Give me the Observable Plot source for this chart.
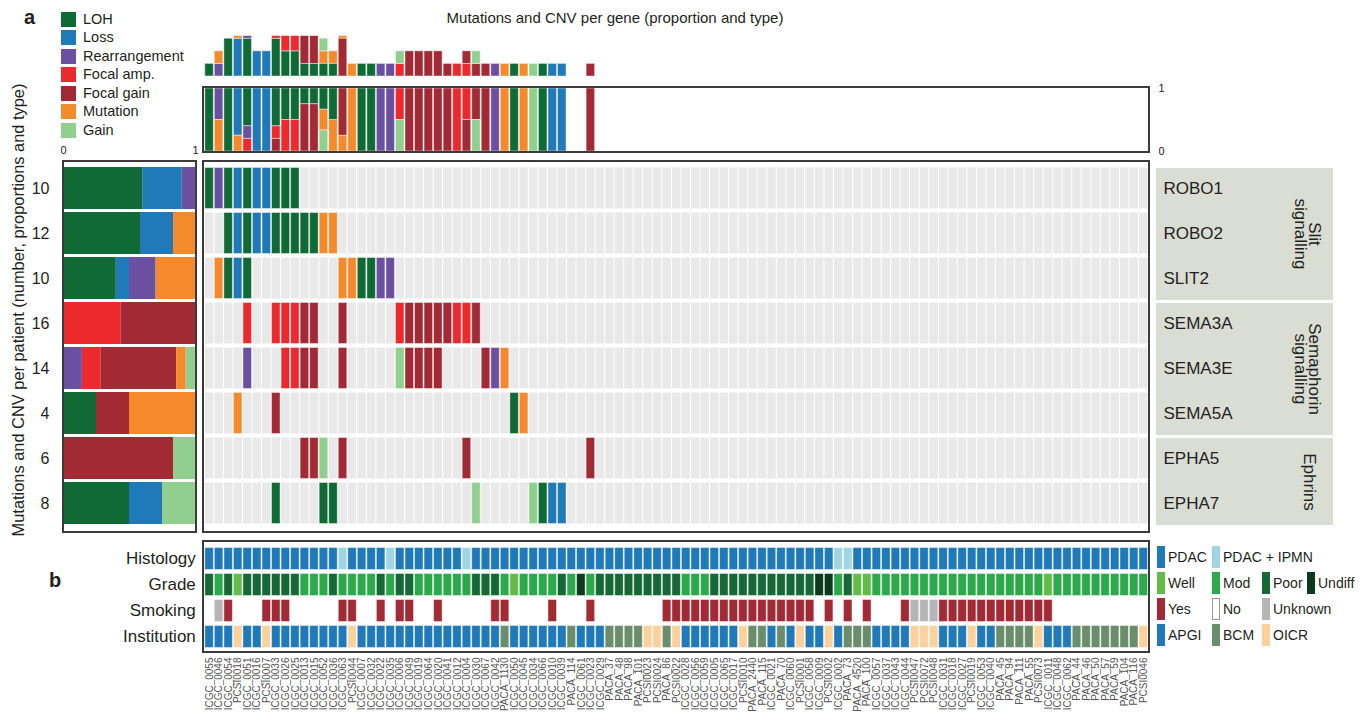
<!DOCTYPE html>
<html><head><meta charset="utf-8">
<script src="https://cdn.jsdelivr.net/npm/d3@7"></script>
<script src="https://cdn.jsdelivr.net/npm/@observablehq/plot@0.6"></script>
<style>
html,body{margin:0;padding:0;background:#fff;}
#root{position:relative;width:1370px;height:712px;overflow:hidden;font-family:"Liberation Sans",Arial,Helvetica,sans-serif;color:#231f20;}
#root svg{position:absolute;left:0;}
.box{position:absolute;box-sizing:border-box;border:2px solid #3b3b3b;}
.t{position:absolute;white-space:nowrap;}
.sw{position:absolute;box-sizing:border-box;}
</style></head><body><div id="root"></div>
<script>
// ---------------- DATA ----------------
const samples = ["ICGC_0055","ICGC_0046","ICGC_0054","PCSI0018","ICGC_0051","ICGC_0016","PCSI0007","ICGC_0033","ICGC_0026","ICGC_0025",
"ICGC_0013","ICGC_0015","ICGC_0052","ICGC_0036","ICGC_0063","PCSI0044","ICGC_0007","ICGC_0032","ICGC_0022","ICGC_0035",
"ICGC_0006","ICGC_0049","ICGC_0019","ICGC_0064","ICGC_0020","ICGC_0041","ICGC_0012","ICGC_0004","ICGC_0030","ICGC_0067",
"ICGC_0042","PACA_1130","ICGC_0050","ICGC_0045","ICGC_0034","ICGC_0066","ICGC_0010","ICGC_0039","PACA_114","ICGC_0061",
"ICGC_0023","ICGC_0029","PACA_37","PACA_48","PACA_98","PACA_101","PCSI0023","PCSI0024","PACA_86","PCSI0022",
"ICGC_0028","ICGC_0056","ICGC_0059","ICGC_0005","ICGC_0065","ICGC_0017","PCSI0010","PACA_2440","PACA_115","ICGC_0021",
"PACA_70","ICGC_0060","PCSI0001","ICGC_0058","ICGC_0009","PCSI0002","ICGC_0002","PACA_73","PACA_4520","PACA_100",
"ICGC_0057","ICGC_0037","ICGC_0043","ICGC_0044","PCSI0047","PCSI0072","PCSI0048","ICGC_0031","ICGC_0018","ICGC_0027",
"PCSI0019","ICGC_0053","ICGC_0040","PACA_45","PACA_94","PACA_111","PACA_55","PCSI0073","ICGC_0011","ICGC_0048",
"ICGC_0062","PACA_44","PACA_46","PACA_50","PACA_57","PACA_59","PACA_104","PACA_116","PCSI0046"];

const genes = ["ROBO1","ROBO2","SLIT2","SEMA3A","SEMA3E","SEMA5A","EPHA5","EPHA7"];
const eventTypes = ["LOH","Loss","Rearrangement","Focal amp.","Focal gain","Mutation","Gain"];
const eventColors = ["#0f6a36","#2079b8","#6b4fa1","#ec2a2e","#a22a35","#f58a2d","#90cf8e"];
const eventCodes = {L:"LOH",S:"Loss",R:"Rearrangement",A:"Focal amp.",G:"Focal gain",M:"Mutation",N:"Gain"};

// events per gene: "<sample index><type code>"
const eventsROBO1  = "0L 1R 2L 3S 4L 5S 6S 7L 8L 9L";
const eventsROBO2  = "2L 3S 4L 5S 6S 7L 8L 9L 10L 11L 12M 13M";
const eventsSLIT2  = "1M 2L 3S 4L 14M 15M 16L 17L 18R 19R";
const eventsSEMA3A = "4A 7A 8A 9A 10G 11G 14G 20A 21G 22G 23G 24G 25G 26A 27A 28G";
const eventsSEMA3E = "4R 8A 9A 10G 11G 14G 20N 21G 22G 23G 24G 29G 30R 31M";
const eventsSEMA5A = "3M 7G 32L 33M";
const eventsEPHA5  = "10G 11G 12N 14G 27G 40G";
const eventsEPHA7  = "7L 12L 13L 28N 34N 35L 36S 37S";
const geneEventLists = [eventsROBO1,eventsROBO2,eventsSLIT2,eventsSEMA3A,eventsSEMA3E,eventsSEMA5A,eventsEPHA5,eventsEPHA7];

const geneGroups = [["Slit","signalling"],["Semaphorin","signalling"],["Ephrins"]];
const geneGroupMembers = [["ROBO1","SLIT2"],["SEMA3A","SEMA5A"],["EPHA5","EPHA7"]];

// clinical annotation (one character per sample)
const annRows = ["Histology","Grade","Smoking","Institution"];
const histology   = "PPPPPPPPPP"+"PPPPIPPPPI"+"PPPPPPPIPP"+"PPPPPPPPPP"+"PPPPPPPPPP"+"PPPPPPPPPP"+"PPPPPPIIPP"+"PPPPPPPPPP"+"PPPPPPPPPP"+"PPPPPPPPP";
const grade       = "PMPWPPPPPP"+"MMMPMMMMPM"+"PPMMMMMMPP"+"PMWMMMMPMU"+"MPPPPPPPPP"+"MMMPPPPPPP"+"PPPPUUMPWW"+"MMMMMMMMMM"+"MMMMMMMMWM"+"MMMMMMMMM";
const smoking     = "NUYNNNYYYN"+"NNNNYYNNYN"+"YYNNYNNNNN"+"YYNNNNYNNN"+"YNNNNNNNYY"+"YYYYYYYYYY"+"YYYYNYNYNY"+"NNNYUUUYYY"+"YYYYYYYYYN"+"NNNNNNNNN";
const institution = "AAAOAAOAAA"+"AAAAAOAAAA"+"AAAAAAAAAA"+"ABAAAAAABA"+"AABBBBOOBO"+"AAAAAAOBBA"+"BAOAAOABBB"+"AAAAOOOAAA"+"OAABBBBOAA"+"ABBBBBBBO";

const histLabels = ["PDAC","PDAC + IPMN"], histCodes = ["P","I"], histColors = ["#2079b8","#a0d5e3"];
const gradeLabels = ["Well","Mod","Poor","Undiff"], gradeCodes = ["W","M","P","U"], gradeColors = ["#63bb48","#2ca94b","#166836","#0b3a1c"];
const smokeLabels = ["Yes","No","Unknown"], smokeCodes = ["Y","N","U"], smokeColors = ["#a22a35","#ffffff","#b5b5b5"];
const instLabels = ["APGI","BCM","OICR"], instCodes = ["A","B","O"], instColors = ["#2079b8","#6a8d6c","#fdd19c"];

// ---------------- DERIVED TABLES ----------------
const events = [];
genes.forEach((g, gi) => {
  geneEventLists[gi].split(" ").forEach(tok => {
    events.push({gene: g, sample: samples[+tok.slice(0, -1)], type: eventCodes[tok.slice(-1)]});
  });
});
const bySampleType = d3.rollups(events, v => v.length, d => d.sample, d => d.type)
  .flatMap(([s, arr]) => arr.map(([t, n]) => ({sample: s, type: t, n})));
const byGeneType = d3.rollups(events, v => v.length, d => d.gene, d => d.type)
  .flatMap(([g, arr]) => arr.map(([t, n]) => ({gene: g, type: t, n})));
const geneCount = new Map(d3.rollups(events, v => v.length, d => d.gene));
const background = genes.flatMap(g => samples.map(s => ({gene: g, sample: s})));

const annSpecs = [
  [histology, histCodes, histColors],
  [grade, gradeCodes, gradeColors],
  [smoking, smokeCodes, smokeColors],
  [institution, instCodes, instColors]
];
const annotations = [];
annRows.forEach((r, ri) => {
  const [str, codes, cols] = annSpecs[ri];
  samples.forEach((s, i) => annotations.push({row: r, sample: s, color: cols[codes.indexOf(str[i])]}));
});

// ---------------- LAYOUT ----------------
const root = document.getElementById("root");
const FONT = '"Liberation Sans", Arial, Helvetica, sans-serif';
const X0 = 204.3, X1 = 1148;
const xBand = {type: "band", domain: samples, range: [X0, X1], padding: 0, round: false, axis: null};
const baseStyle = {background: "transparent", fontFamily: FONT, color: "#231f20", overflow: "visible"};
const colorEv = {domain: eventTypes, range: eventColors};

function put(el, top) { el.style.top = top + "px"; root.appendChild(el); return el; }
function text(x, y, html, css) {
  const d = document.createElement("div");
  d.className = "t"; d.innerHTML = html;
  d.style.cssText += `left:${x}px;top:${y}px;` + (css || "");
  root.appendChild(d); return d;
}
function box(x, y, w, h, css) {
  const d = document.createElement("div");
  d.className = "box"; d.style.cssText += `left:${x}px;top:${y}px;width:${w}px;height:${h}px;` + (css || "");
  root.appendChild(d); return d;
}
function swatch(x, y, w, h, color, border) {
  const d = document.createElement("div");
  d.className = "sw";
  d.style.cssText = `left:${x}px;top:${y}px;width:${w}px;height:${h}px;background:${color};` + (border ? `border:1px solid ${border};` : "");
  root.appendChild(d); return d;
}

// ---- legend a ----
text(24, 6, "a", "font-weight:bold;font-size:20px;");
eventTypes.forEach((t, i) => {
  const y = 11.5 + 18.5 * i;
  swatch(61, y, 15, 15, eventColors[i]);
  text(83, y - 1, t, "font-size:14.5px;line-height:17px;");
});
text(615, 9, "Mutations and CNV per gene (proportion and type)", "font-size:15px;transform:translateX(-50%);");

// ---- top: counts per sample ----
const countPlot = Plot.plot({
  width: 1152, height: 52, marginTop: 7.7, marginBottom: 4, marginLeft: 0, marginRight: 4,
  style: baseStyle,
  x: xBand,
  y: {domain: [0, 3.2], axis: null},
  color: colorEv,
  marks: [
    Plot.barY(bySampleType, Plot.stackY({x: "sample", y: "n", fill: "type", order: eventTypes,
      insetLeft: 0.5, insetRight: 0.5, stroke: "white", strokeOpacity: 0.45, strokeWidth: 1, clip: true}))
  ]
});
put(countPlot, 28);

// ---- top: proportions per sample ----
const propPlot = Plot.plot({
  width: 1180, height: 76, marginTop: 8, marginBottom: 5, marginLeft: 0, marginRight: 32,
  style: baseStyle,
  x: xBand,
  y: {domain: [0, 1], axis: null},
  color: colorEv,
  marks: [
    Plot.barY(bySampleType, Plot.stackY({offset: "normalize", x: "sample", y: "n", fill: "type",
      order: eventTypes.slice().reverse(), insetLeft: 0.5, insetRight: 0.5, stroke: "white", strokeOpacity: 0.45})),
    Plot.axisY({anchor: "right", ticks: [0, 1], tickSize: 0, tickPadding: 10, fontSize: 11, label: null, tickFormat: d3.format("d")})
  ]
});
put(propPlot, 80);
box(202, 86, 948, 67);

const yBandCfg = {type: "band", domain: genes, paddingInner: 0.06, paddingOuter: 0};

// ---- main grid ----
const gridPlot = Plot.plot({
  width: 1370, height: 380, marginTop: 7, marginBottom: 12, marginLeft: 0, marginRight: 220,
  style: baseStyle,
  x: xBand,
  y: {...yBandCfg, axis: null},
  color: colorEv,
  marks: [
    Plot.cell(background, {x: "sample", y: "gene", fill: "#e8e9e8", inset: 0.5}),
    Plot.cell(events, {x: "sample", y: "gene", fill: "type", inset: 0.5, stroke: "white", strokeOpacity: 0.45}),
    Plot.axisY({anchor: "right", tickSize: 0, tickPadding: 13, fontSize: 17, label: null, fill: "#231f20"})
  ]
});
const yG = gridPlot.scale("y");
// gene-group panels (behind the gene labels)
geneGroupMembers.forEach(([a, b], i) => {
  const top = 158 + yG.apply(a) + 1;
  const bottom = 158 + yG.apply(b) + yG.bandwidth + 1;
  const p = document.createElement("div");
  p.style.cssText = `position:absolute;left:1156px;top:${top}px;width:177px;height:${bottom - top}px;background:#d9ddd3;`;
  root.appendChild(p);
  const lines = geneGroups[i];
  const cx = lines.length > 1 ? 1307 : 1309;
  text(cx, (top + bottom) / 2, lines.join("<br>"),
    "font-size:17px;line-height:14px;text-align:center;transform:translate(-50%,-50%) rotate(90deg);");
});
put(gridPlot, 158);
box(202, 160, 948, 373);

// ---- left: proportions per gene ----
const leftPlot = Plot.plot({
  width: 200, height: 408, marginTop: 35, marginBottom: 12, marginLeft: 63, marginRight: 5,
  style: baseStyle,
  x: {domain: [0, 1], axis: null},
  y: {...yBandCfg, axis: null},
  color: colorEv,
  marks: [
    Plot.barX(byGeneType, Plot.stackX({offset: "normalize", y: "gene", x: "n", fill: "type", order: eventTypes})),
    Plot.axisY({anchor: "left", tickSize: 0, tickPadding: 14, fontSize: 16, label: null, tickFormat: g => geneCount.get(g)}),
    Plot.axisX({anchor: "top", ticks: [0, 1], tickSize: 0, tickPadding: 12, fontSize: 11, label: null, tickFormat: d3.format("d")})
  ]
});
put(leftPlot, 130);
box(62, 160, 135, 373);
text(18, 310, "Mutations and CNV per patient (number, proportions and type)",
  "font-size:16.4px;transform:translate(-50%,-50%) rotate(-90deg);");

// ---- bottom: clinical annotations ----
text(49, 569, "b", "font-weight:bold;font-size:20px;");
const annPlot = Plot.plot({
  width: 1152, height: 174, marginTop: 7, marginBottom: 62, marginLeft: 204.3, marginRight: 4,
  style: baseStyle,
  x: xBand,
  y: {type: "band", domain: annRows, paddingInner: 0.1, paddingOuter: 0, axis: null},
  color: {type: "identity"},
  marks: [
    Plot.cell(annotations, {x: "sample", y: "row", fill: "color", inset: 0.5, stroke: "white", strokeOpacity: 0.45}),
    Plot.axisY({anchor: "left", tickSize: 0, tickPadding: 9, fontSize: 17, label: null}),
    Plot.axisX({anchor: "bottom", tickRotate: -90, tickSize: 0, tickPadding: 7, fontSize: 10, label: null, fill: "#555"})
  ]
});
put(annPlot, 538);
box(202, 540, 948, 113);

// ---- legend b ----
const legCols = [1157, 1212, 1262, 1307];
const legRowsTop = [546, 572, 598, 624];
[[histLabels, histColors], [gradeLabels, gradeColors], [smokeLabels, smokeColors], [instLabels, instColors]]
  .forEach(([labels, colors], r) => {
    labels.forEach((lab, i) => {
      const x = legCols[i], y = legRowsTop[r];
      swatch(x, y, 8, 22, colors[i], colors[i] === "#ffffff" ? "#999" : null);
      text(x + 11, y + 2, lab, "font-size:14px;line-height:18px;");
    });
  });
</script></body></html>
